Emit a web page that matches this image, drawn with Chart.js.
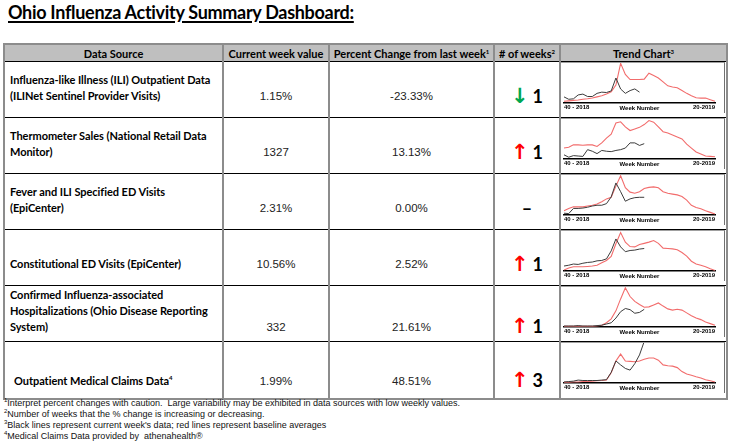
<!DOCTYPE html>
<html>
<head>
<meta charset="utf-8">
<title>Ohio Influenza Activity Summary Dashboard</title>
<script src="https://cdn.jsdelivr.net/npm/chart.js@4.4.1/dist/chart.umd.min.js"></script>
<style>
  html, body { margin: 0; padding: 0; background: #fff; }
  body { width: 732px; height: 445px; position: relative; overflow: hidden; font-family: Lato, "Open Sans", sans-serif; color: #000; }

  #title {
    position: absolute; left: 8px; top: 1px;
    font: bold 18px Lato, sans-serif; letter-spacing: -0.3px;
    text-decoration: underline; text-decoration-thickness: 1.5px; text-underline-offset: 2px;
  }

  #dash {
    position: absolute; left: 3px; top: 43px;
    border-collapse: collapse; table-layout: fixed;
    border: 2px solid #8c8c8c;
  }
  #dash th {
    background: #bfbfbf; height: 16px; padding: 0;
    font: bold 11px Lato, sans-serif; white-space: nowrap;
    border-left: 2px solid #8c8c8c; border-right: 2px solid #8c8c8c;
    border-bottom: 1.5px solid #000;
  }
  #dash th sup, #notes sup { font-size: 6px; line-height: 0; vertical-align: 4px; }
  #dash td {
    border-left: 2px solid #8c8c8c; border-right: 2px solid #8c8c8c;
    border-top: 1px solid #000; border-bottom: 1px solid #000;
    vertical-align: bottom; padding: 0 0 13px 0; line-height: 16px;
  }
  #dash tbody tr { height: 56px; }
  #dash tbody tr:nth-child(5) td { padding-bottom: 6px; }
  #dash tbody tr:nth-child(6) { height: 57px; }
  #dash tbody tr:nth-child(6) td { padding-bottom: 9px; }
  #dash tbody tr:nth-child(6) td.src { padding-left: 9px; }
  #dash td.src { text-align: left; padding-left: 5px; font: bold 11px Lato, sans-serif; letter-spacing: -0.05px; line-height: 16px; white-space: pre-line; }
  #dash td.src sup { font-size: 6px; line-height: 0; vertical-align: 5px; }
  #dash td.val, #dash td.pct { text-align: center; font: 11.5px "Liberation Sans", Arial, sans-serif; line-height: 16px; color: #222; }
  #dash td.wk { text-align: center; font: bold 18px Lato, sans-serif; line-height: 18px; padding-bottom: 12px; }
  #dash td.wk .arrow { font-family: "DejaVu Sans", sans-serif; font-weight: bold; font-size: 21px; margin-right: 4px; }
  #dash td.wk .up { color: #ff0000; }
  #dash td.wk .down { color: #00a650; }
  #dash tbody tr > td.trend { vertical-align: top; padding: 0; }
  .spark {
    position: relative; width: 164px; height: 51px;
    border-top: 1px solid #a0a0a0; border-right: 1px solid #707070;
    box-sizing: border-box;
  }

  #notes {
    position: absolute; left: 4px; top: 398px;
    font: 9px "Liberation Sans", Arial, sans-serif; line-height: 10.9px; color: #111;
    white-space: nowrap;
  }
</style>
</head>
<body>

<div id="title">Ohio Influenza Activity Summary Dashboard:</div>

<table id="dash">
  <colgroup>
    <col style="width:219px">
    <col style="width:106px">
    <col style="width:165px">
    <col style="width:66px">
    <col style="width:167px">
  </colgroup>
  <thead>
    <tr>
      <th>Data Source</th>
      <th>Current week value</th>
      <th>Percent Change from last week<sup>1</sup></th>
      <th># of weeks<sup>2</sup></th>
      <th>Trend Chart<sup>3</sup></th>
    </tr>
  </thead>
  <tbody id="rows"></tbody>
</table>

<div id="notes">
  <div><sup>1</sup>Interpret percent changes with caution.&nbsp; Large variability may be exhibited in data sources with low weekly values.</div>
  <div><sup>2</sup>Number of weeks that the % change is increasing or decreasing.</div>
  <div><sup>3</sup>Black lines represent current week's data; red lines represent baseline averages</div>
  <div><sup>4</sup>Medical Claims Data provided by&nbsp; athenahealth®</div>
</div>

<script>
// Table columns (line breaks as in the source table)
const SOURCES = [
  'Influenza-like Illness (ILI) Outpatient Data\n(ILINet Sentinel Provider Visits)',
  'Thermometer Sales (National Retail Data\nMonitor)',
  'Fever and ILI Specified ED Visits\n(EpiCenter)',
  'Constitutional ED Visits (EpiCenter)',
  'Confirmed Influenza-associated\nHospitalizations (Ohio Disease Reporting\nSystem)',
  'Outpatient Medical Claims Data'
];
const SOURCE_NOTES = ['', '', '', '', '', '4'];
const CURRENT_VALUES = ['1.15%', '1327', '2.31%', '10.56%', '332', '1.99%'];
const PCT_CHANGES = ['-23.33%', '13.13%', '0.00%', '2.52%', '21.61%', '48.51%'];
const TREND_DIRS = ['down', 'up', 'flat', 'up', 'up', 'up'];
const WEEK_COUNTS = ['1', '1', '', '1', '1', '3'];

// Trend chart x axis (week 40-2018 .. week 20-2019)
const WEEKS = ['40', '41', '42', '43', '44', '45', '46', '47', '48', '49', '50', '51', '52',
  '1', '2', '3', '4', '5', '6', '7', '8', '9', '10', '11', '12', '13', '14', '15', '16', '17', '18', '19', '20'];
const FIRST_TICK = '40 - 2018';
const LAST_TICK = '20-2019';
const AXIS_TITLE = 'Week Number';

// ILI outpatient (%)
const ILI_CURRENT = [0.64, 0.38, 0.43, 0.85, 0.94, 0.68, 0.68, 1.02, 1.15, 1.11, 1.28, 2.68, 1.49, 1.02, 1.32, 1.50, 1.15];
const ILI_BASELINE = [0.17, 0.21, 0.26, 0.30, 0.38, 0.43, 0.51, 0.64, 0.77, 0.94, 1.19, 1.92, 4.26, 3.07, 2.51, 2.51, 2.51,
  2.56, 3.20, 2.94, 2.68, 2.26, 1.83, 1.70, 1.62, 1.32, 1.02, 0.77, 0.55, 0.51, 0.51, 0.34, 0.17];

// Thermometer sales (units)
const THERMO_CURRENT = [349, 140, 279, 244, 209, 803, 663, 454, 733, 663, 628, 733, 803, 942, 1396, 1396, 1173, 1327];
const THERMO_BASELINE = [942, 1012, 1222, 1222, 1187, 1222, 1222, 1082, 1396, 1815, 2164, 3141, 3246, 2792, 2478, 2618, 2757,
  3001, 3350, 3211, 2792, 2373, 2269, 2094, 1920, 1745, 1291, 942, 593, 419, 244, 209, 175];

// Fever and ILI ED visits (%)
const FEVER_CURRENT = [0.21, 0.16, 0.84, 0.84, 0.89, 1.00, 1.16, 1.26, 1.26, 1.47, 2.36, 4.20, 3.05, 1.79, 2.10, 2.26, 2.31, 2.31];
const FEVER_BASELINE = [0.53, 0.84, 1.05, 1.05, 1.05, 1.16, 1.26, 1.42, 1.73, 2.10, 2.31, 3.78, 5.15, 3.57, 2.99, 2.84, 3.05,
  3.47, 3.62, 3.68, 3.57, 3.05, 2.84, 2.73, 2.63, 2.42, 1.94, 1.26, 0.95, 0.79, 0.53, 0.32, 0.11];

// Constitutional ED visits (%)
const CONST_CURRENT = [2.26, 2.64, 3.21, 3.02, 3.58, 3.96, 4.15, 4.72, 4.90, 5.66, 9.43, 15.09, 11.32, 9.05, 9.62, 9.81, 10.30, 10.56];
const CONST_BASELINE = [0.38, 1.32, 1.89, 1.89, 1.89, 2.07, 2.26, 2.64, 3.77, 4.90, 6.79, 12.82, 18.11, 13.58, 11.50, 11.32, 12.45,
  13.01, 13.58, 14.33, 13.01, 10.75, 10.56, 10.37, 10.00, 8.68, 6.98, 4.53, 3.21, 2.64, 1.89, 0.94, 0.19];

// Influenza-associated hospitalizations (count)
const HOSP_CURRENT = [15, 15, 15, 23, 15, 15, 15, 23, 30, 53, 76, 166, 287, 347, 325, 257, 273, 332];
const HOSP_BASELINE = [8, 8, 8, 8, 8, 8, 8, 15, 30, 76, 151, 302, 529, 740, 574, 483, 423,
  370, 378, 415, 453, 393, 340, 317, 332, 317, 264, 211, 166, 136, 91, 60, 30];

// Outpatient medical claims (%)
const CLAIMS_CURRENT = [0.04, 0.06, 0.08, 0.13, 0.11, 0.11, 0.11, 0.11, 0.13, 0.15, 0.50, 1.05, 0.86, 0.69, 0.61, 0.92, 1.34, 1.99];
const CLAIMS_BASELINE = [0.02, 0.02, 0.04, 0.04, 0.06, 0.06, 0.08, 0.10, 0.11, 0.13, 0.48, 1.05, 1.38, 1.05, 1.03, 1.01, 1.05,
  1.13, 1.19, 1.19, 1.09, 0.86, 0.82, 0.80, 0.73, 0.54, 0.42, 0.36, 0.29, 0.23, 0.15, 0.10, 0.04];

const TREND_CURRENT = [ILI_CURRENT, THERMO_CURRENT, FEVER_CURRENT, CONST_CURRENT, HOSP_CURRENT, CLAIMS_CURRENT];
const TREND_BASELINE = [ILI_BASELINE, THERMO_BASELINE, FEVER_BASELINE, CONST_BASELINE, HOSP_BASELINE, CLAIMS_BASELINE];
const TREND_MAX = [4.3, 3490, 5.25, 18.86, 755, 1.913];

const LINE_COLORS = { current: '#3c3c3c', baseline: '#f26c6c', axis: '#000' };
const TICK_FONT = { family: '"Liberation Sans", Arial, sans-serif', size: 6, weight: 'bold' };

/**
 * Build table rows
 */
function renderRows() {
  const tbody = document.getElementById('rows');
  tbody.innerHTML = SOURCES.map((src, i) => {
    let wk;
    if (TREND_DIRS[i] === 'flat') {
      wk = '<span>&ndash;</span>';
    } else {
      const arrow = TREND_DIRS[i] === 'up' ? '&#8593;' : '&#8595;';
      wk = `<span class="arrow ${TREND_DIRS[i]}">${arrow}</span>${WEEK_COUNTS[i]}`;
    }
    const note = SOURCE_NOTES[i] ? `<sup>${SOURCE_NOTES[i]}</sup>` : '';
    return `
      <tr>
        <td class="src">${src}${note}</td>
        <td class="val">${CURRENT_VALUES[i]}</td>
        <td class="pct">${PCT_CHANGES[i]}</td>
        <td class="wk">${wk}</td>
        <td class="trend"><div class="spark"><canvas id="trend${i}"></canvas></div></td>
      </tr>`;
  }).join('');
}

/**
 * Small trend chart (black = current season, red = baseline)
 */
function createTrendChart(canvasId, current, baseline, yMax) {
  const ctx = document.getElementById(canvasId).getContext('2d');
  return new Chart(ctx, {
    type: 'line',
    data: {
      labels: WEEKS,
      datasets: [
        {
          label: 'Current season',
          data: current,
          borderColor: LINE_COLORS.current,
          borderWidth: 1,
          pointRadius: 0,
          tension: 0
        },
        {
          label: 'Baseline average',
          data: baseline,
          borderColor: LINE_COLORS.baseline,
          borderWidth: 1.1,
          pointRadius: 0,
          tension: 0
        }
      ]
    },
    options: {
      responsive: true,
      maintainAspectRatio: false,
      animation: false,
      events: [],
      layout: { padding: { left: 3, right: 9, top: 0, bottom: 1 } },
      plugins: {
        legend: { display: false },
        tooltip: { enabled: false }
      },
      scales: {
        x: {
          grid: { display: false, drawTicks: false },
          border: { display: true, color: LINE_COLORS.axis, width: 1.5 },
          ticks: {
            autoSkip: false,
            maxRotation: 0,
            align: 'inner',
            padding: 1,
            color: '#000',
            font: TICK_FONT,
            callback: (value, index) => {
              if (index === 0) return FIRST_TICK;
              if (index === WEEKS.length - 1) return LAST_TICK;
              return '';
            }
          },
          title: {
            display: true,
            text: AXIS_TITLE,
            color: '#000',
            font: TICK_FONT,
            padding: { top: -7.2, bottom: 0 }
          }
        },
        y: {
          display: false,
          min: 0,
          max: yMax
        }
      }
    }
  });
}

document.addEventListener('DOMContentLoaded', () => {
  renderRows();
  TREND_CURRENT.forEach((cur, i) => {
    createTrendChart(`trend${i}`, cur, TREND_BASELINE[i], TREND_MAX[i]);
  });
});
</script>
</body>
</html>
